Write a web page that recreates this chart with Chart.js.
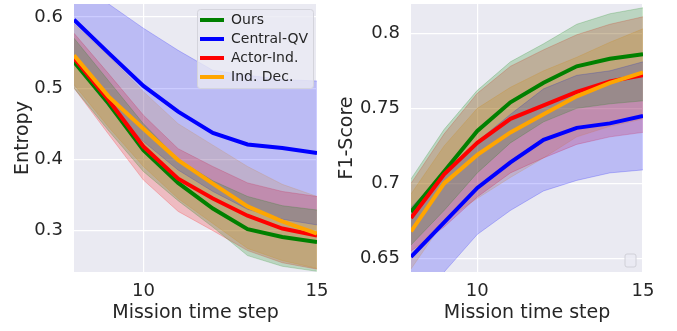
<!DOCTYPE html>
<html>
<head>
<meta charset="utf-8">
<script src="https://cdn.jsdelivr.net/npm/chart.js@4.4.1/dist/chart.umd.min.js"></script>
<style>
  html, body { margin: 0; padding: 0; background: #fff; }
  #wrap { position: relative; width: 677px; height: 331px; }
  .panel { position: absolute; top: 0; height: 331px; }
</style>
</head>
<body>
<div id="wrap">
  <div class="panel" style="left:0;width:330px"><canvas id="entropy"></canvas></div>
  <div class="panel" style="left:330px;width:347px"><canvas id="f1"></canvas></div>
</div>
<script>
const steps = [8, 9, 10, 11, 12, 13, 14, 15];

const seriesNames = ['Ours', 'Central-QV', 'Actor-Ind.', 'Ind. Dec.'];
const seriesColors = ['#008000', '#0000ff', '#ff0000', '#ffa500'];
const bandColors = ['rgba(0,128,0,0.2)', 'rgba(0,0,255,0.2)', 'rgba(255,0,0,0.2)', 'rgba(255,165,0,0.2)'];

// entropy (left)
const entOurs = [0.537, 0.478, 0.413, 0.367, 0.331, 0.302, 0.291, 0.284];
const entOursHi = [0.570, 0.510, 0.450, 0.400, 0.370, 0.348, 0.335, 0.329];
const entOursLo = [0.500, 0.440, 0.383, 0.342, 0.305, 0.265, 0.250, 0.243];
const entCentral = [0.596, 0.549, 0.503, 0.467, 0.437, 0.421, 0.416, 0.409];
const entCentralHi = [0.652, 0.618, 0.584, 0.553, 0.525, 0.518, 0.512, 0.510];
const entCentralLo = [0.535, 0.475, 0.425, 0.385, 0.355, 0.330, 0.316, 0.308];
const entActor = [0.542, 0.483, 0.418, 0.373, 0.345, 0.321, 0.303, 0.293];
const entActorHi = [0.577, 0.520, 0.462, 0.415, 0.390, 0.367, 0.355, 0.348];
const entActorLo = [0.500, 0.435, 0.371, 0.327, 0.300, 0.272, 0.255, 0.246];
const entInd = [0.546, 0.488, 0.443, 0.399, 0.366, 0.334, 0.313, 0.296];
const entIndHi = [0.590, 0.545, 0.495, 0.450, 0.420, 0.390, 0.365, 0.348];
const entIndLo = [0.505, 0.445, 0.390, 0.345, 0.310, 0.275, 0.258, 0.247];
const entTicks = [0.3, 0.4, 0.5, 0.6];

// f1 (right)
const f1Ours = [0.681, 0.708, 0.735, 0.754, 0.767, 0.778, 0.783, 0.786];
const f1OursHi = [0.703, 0.736, 0.762, 0.781, 0.793, 0.806, 0.813, 0.817];
const f1OursLo = [0.659, 0.682, 0.707, 0.727, 0.741, 0.750, 0.753, 0.755];
const f1Central = [0.651, 0.674, 0.697, 0.714, 0.729, 0.737, 0.740, 0.745];
const f1CentralHi = [0.684, 0.707, 0.728, 0.746, 0.763, 0.772, 0.775, 0.781];
const f1CentralLo = [0.618, 0.641, 0.666, 0.682, 0.695, 0.702, 0.707, 0.709];
const f1Actor = [0.677, 0.706, 0.727, 0.743, 0.752, 0.761, 0.768, 0.772];
const f1ActorHi = [0.700, 0.733, 0.760, 0.778, 0.789, 0.799, 0.806, 0.811];
const f1ActorLo = [0.655, 0.671, 0.691, 0.707, 0.717, 0.726, 0.731, 0.734];
const f1Ind = [0.668, 0.700, 0.719, 0.734, 0.746, 0.758, 0.767, 0.774];
const f1IndHi = [0.693, 0.725, 0.750, 0.764, 0.775, 0.784, 0.794, 0.803];
const f1IndLo = [0.643, 0.675, 0.690, 0.704, 0.717, 0.731, 0.738, 0.743];
const f1Ticks = [0.65, 0.7, 0.75, 0.8];

const FONT = 'DejaVu Sans';
const TEXT = '#262626';

function xy(vals) {
    return vals.map((v, i) => ({x: steps[i], y: v}));
}

function buildDatasets(means, his, los) {
    let sets = [];
    // bands first (lo then hi filled to lo), drawn below lines
    for (let i = 0; i < means.length; i++) {
        let loIdx = sets.length;
        sets.push({data: xy(los[i]), borderColor: bandColors[i], borderWidth: 1, pointRadius: 0, fill: false, order: 2});
        sets.push({data: xy(his[i]), borderColor: bandColors[i], backgroundColor: bandColors[i], borderWidth: 1, pointRadius: 0, fill: loIdx, order: 2});
    }
    // mean lines, last series on top
    for (let i = means.length - 1; i >= 0; i--) {
        sets.push({label: seriesNames[i], data: xy(means[i]), borderColor: seriesColors[i], borderWidth: 4, pointRadius: 0, fill: false, order: 1 + (means.length - i) * 0.01});
    }
    return sets;
}

const bgPlugin = {
    id: 'bg',
    beforeDraw(chart) {
        const a = chart.chartArea, ctx = chart.ctx;
        ctx.save();
        ctx.fillStyle = '#eaeaf2';
        ctx.fillRect(a.left, a.top, a.right - a.left, a.bottom - a.top);
        ctx.restore();
    }
};

function roundRect(ctx, x, y, w, h, r) {
    ctx.beginPath();
    ctx.moveTo(x + r, y);
    ctx.arcTo(x + w, y, x + w, y + h, r);
    ctx.arcTo(x + w, y + h, x, y + h, r);
    ctx.arcTo(x, y + h, x, y, r);
    ctx.arcTo(x, y, x + w, y, r);
    ctx.closePath();
}

const legendPlugin = {
    id: 'boxLegend',
    afterDraw(chart, args, opts) {
        const a = chart.chartArea, ctx = chart.ctx;
        ctx.save();
        if (opts.empty) {
            roundRect(ctx, a.right - 18, a.bottom - 18, 11, 13, 2);
            ctx.fillStyle = 'rgba(234,234,242,0.8)';
            ctx.fill();
            ctx.strokeStyle = '#d0d0d8';
            ctx.lineWidth = 1;
            ctx.stroke();
            ctx.restore();
            return;
        }
        const w = 116, h = 79;
        const x = a.right - 4 - w, y = a.top + 5;
        roundRect(ctx, x + 0.5, y + 0.5, w, h, 3);
        ctx.fillStyle = 'rgba(234,234,242,0.8)';
        ctx.fill();
        ctx.strokeStyle = '#d4d4dc';
        ctx.lineWidth = 1;
        ctx.stroke();
        ctx.font = '14px "' + FONT + '"';
        ctx.textBaseline = 'middle';
        ctx.fillStyle = TEXT;
        for (let i = 0; i < seriesNames.length; i++) {
            const cy = y + 11 + i * 19;
            ctx.strokeStyle = seriesColors[i];
            ctx.lineWidth = 4;
            ctx.beginPath();
            ctx.moveTo(x + 3, cy);
            ctx.lineTo(x + 27, cy);
            ctx.stroke();
            ctx.fillText(seriesNames[i], x + 34, cy);
        }
        ctx.restore();
    }
};

function makeChart(id, datasets, opt) {
    return new Chart(document.getElementById(id), {
        type: 'line',
        data: {datasets: datasets},
        options: {
            responsive: true,
            maintainAspectRatio: false,
            animation: false,
            layout: {padding: {left: 0, right: opt.padRight, top: 4, bottom: 0}},
            plugins: {legend: {display: false}, tooltip: {enabled: false}, boxLegend: {empty: opt.emptyLegend}},
            scales: {
                x: {
                    type: 'linear', min: 8, max: 15,
                    afterBuildTicks: s => { s.ticks = [{value: 10}, {value: 15}]; },
                    afterFit: s => { s.height = 59; s.paddingLeft = 0; s.paddingRight = 0; },
                    grid: {color: '#ffffff', lineWidth: 1.2, drawTicks: false},
                    border: {display: false},
                    ticks: {color: TEXT, font: {family: FONT, size: 18}, padding: 9, maxRotation: 0},
                    title: {display: true, text: 'Mission time step', color: TEXT, font: {family: FONT, size: 19}, padding: {top: 0, bottom: 7}}
                },
                y: {
                    type: 'linear', min: opt.yMin, max: opt.yMax,
                    afterBuildTicks: s => { s.ticks = opt.yTicks.map(v => ({value: v})); },
                    afterFit: s => { s.width = opt.axisWidth; s.paddingTop = 0; s.paddingBottom = 0; },
                    grid: {color: '#ffffff', lineWidth: 1.2, drawTicks: false},
                    border: {display: false},
                    ticks: {color: TEXT, font: {family: FONT, size: 18}, padding: 11, callback: v => String(v)},
                    title: {display: true, text: opt.title, color: TEXT, font: {family: FONT, size: 19}, padding: {top: opt.titlePad, bottom: 0}}
                }
            }
        },
        plugins: [bgPlugin, legendPlugin]
    });
}

makeChart('entropy',
    buildDatasets([entOurs, entCentral, entActor, entInd], [entOursHi, entCentralHi, entActorHi, entIndHi], [entOursLo, entCentralLo, entActorLo, entIndLo]),
    {yMin: 0.242, yMax: 0.618, yTicks: entTicks, title: 'Entropy', axisWidth: 74, titlePad: 11.6, padRight: 13, emptyLegend: false});

makeChart('f1',
    buildDatasets([f1Ours, f1Central, f1Actor, f1Ind], [f1OursHi, f1CentralHi, f1ActorHi, f1IndHi], [f1OursLo, f1CentralLo, f1ActorLo, f1IndLo]),
    {yMin: 0.641, yMax: 0.8195, yTicks: f1Ticks, title: 'F1-Score', axisWidth: 81, titlePad: 5.3, padRight: 34, emptyLegend: true});
</script>
</body>
</html>
